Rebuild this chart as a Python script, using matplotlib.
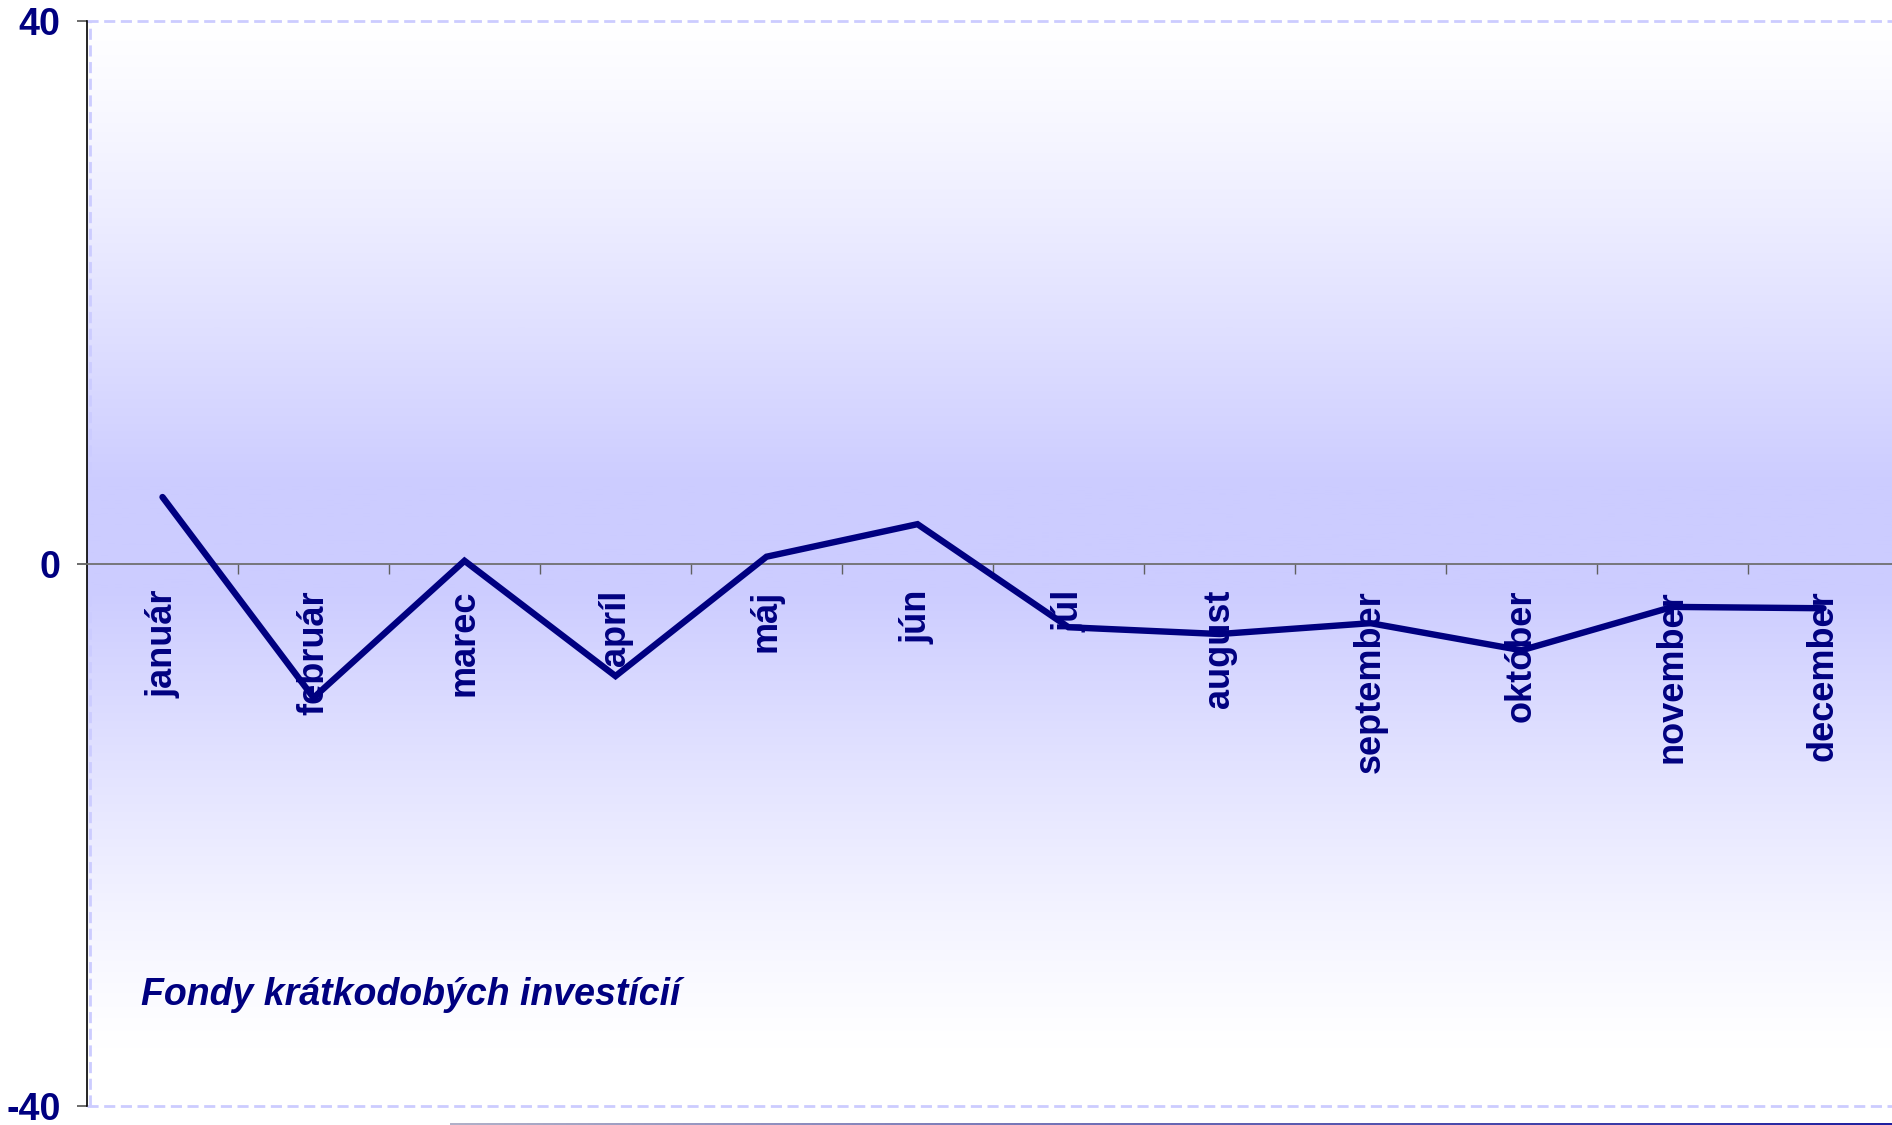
import numpy as np
import matplotlib.pyplot as plt
from matplotlib.colors import LinearSegmentedColormap

# data
months = ['január', 'február', 'marec', 'apríl', 'máj', 'jún',
          'júl', 'august', 'september', 'október', 'november', 'december']
values = [4.9, -9.9, 0.2, -8.3, 0.5, 2.9, -4.7, -5.2, -4.4, -6.4, -3.2, -3.3]
y_ticks = [-40, 0, 40]
title = 'Fondy krátkodobých investícií'

navy = '#000080'
lavender = '#CCCCFF'
plt.rcParams['font.family'] = ['Liberation Sans', 'DejaVu Sans']

fig = plt.figure(figsize=(18.92, 11.25), dpi=100)
ax = fig.add_axes([87 / 1892, 19 / 1125, 1812 / 1892, 1085 / 1125])

# background gradient: white at the edges, lavender around zero
yy = np.linspace(40, -40, 400)
t = np.clip((1 - np.abs(yy - 2) / 38) / 0.9, 0, 1) ** 1.2
grad = t[:, None]
cmap = LinearSegmentedColormap.from_list('bg', ['#FFFFFF', lavender])
ax.imshow(grad, extent=(-0.5, 11.5, -40, 40), aspect='auto', cmap=cmap,
          vmin=0, vmax=1, zorder=0)

x = np.arange(len(months))
ax.plot(x, values, color=navy, lw=4.6, solid_capstyle='round',
        solid_joinstyle='miter', zorder=3)

# dashed plot-area border lines
ax.axhline(40, color=lavender, ls=(0, (4, 2)), lw=2, clip_on=False, zorder=1)
ax.axhline(-40, color=lavender, ls=(0, (4, 2)), lw=2, clip_on=False, zorder=1)
ax.axvline(-0.48, color=lavender, ls=(0, (4, 2)), lw=2, zorder=1)

ax.set_xlim(-0.5, 11.5)
ax.set_ylim(-40, 40)

# axes
ax.spines['top'].set_visible(False)
ax.spines['right'].set_visible(False)
ax.spines['bottom'].set_position(('data', 0))
ax.spines['bottom'].set_color('#707070')
ax.spines['bottom'].set_linewidth(1.3)
ax.spines['left'].set_color('black')
ax.spines['left'].set_linewidth(1.2)

ax.set_xticks(x)
ax.set_xticklabels(months, rotation=90, fontsize=26, fontweight='bold', color=navy)
ax.set_xticks(x[:-1] + 0.5, minor=True)
ax.tick_params(axis='x', which='major', length=0, pad=19)
ax.tick_params(axis='x', which='minor', length=7, width=1, color='#606060', direction='out')

ax.set_yticks(y_ticks)
ax.set_yticklabels([str(v) for v in y_ticks], fontsize=27, fontweight='bold', color=navy)
ax.tick_params(axis='y', length=7, width=1.3, color='#606060', pad=12)

fig.text(141 / 1892, 1 - 995 / 1125, title, fontsize=27, fontweight='bold',
         fontstyle='italic', color=navy, va='center', ha='left')

# thin decorative line at the bottom edge
bx = fig.add_axes([450 / 1892, 0, 1442 / 1892, 2.5 / 1125])
bar_cmap = LinearSegmentedColormap.from_list('bar', ['#B0B0C8', '#2020A0'])
bx.imshow(np.linspace(0, 1, 200)[None, :], aspect='auto', cmap=bar_cmap)
bx.axis('off')

fig.savefig('out.png', dpi=100)
